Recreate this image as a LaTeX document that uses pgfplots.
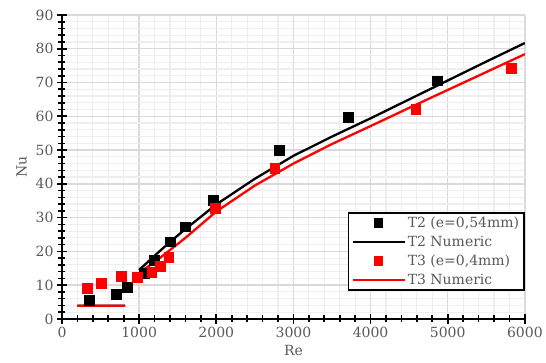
\documentclass[border=0pt]{standalone}
\usepackage{fontspec}
\setmainfont{DejaVu Serif}
\usepackage{pgfplots}
\pgfplotsset{compat=1.18}
\definecolor{tickgray}{RGB}{89,89,89}
\definecolor{majgrid}{RGB}{217,217,217}
\definecolor{mingrid}{RGB}{238,238,238}
\pgfplotsset{
  markleg/.style={legend image code/.code={\draw[##1, mark size=4bp] plot coordinates {(26bp,0)};}},
  lineleg/.style={legend image code/.code={\draw[##1] (0bp,0bp) -- (52bp,0bp);}},
}
\begin{document}
\begin{tikzpicture}
\begin{axis}[
  scale only axis,
  width=463bp, height=304bp,
  xmin=0, xmax=6000, ymin=0, ymax=90,
  xtick={0,1000,...,6000}, ytick={0,10,...,90},
  minor x tick num=4, minor y tick num=4,
  axis x line*=bottom, axis y line*=left,
  axis line style={line width=2bp, black, -},
  tick align=center,
  major tick length=10bp, minor tick length=7bp,
  every tick/.style={black, line width=1.6bp},
  grid=both,
  major grid style={majgrid, line width=1.4bp},
  minor grid style={mingrid, line width=1.2bp},
  /pgf/number format/assume math mode=true,
  /pgf/number format/1000 sep={},
  tick label style={font=\fontsize{14bp}{16bp}\selectfont, text=tickgray},
  label style={font=\fontsize{14bp}{16bp}\selectfont, text=tickgray},
  xlabel={Re}, ylabel={Nu},
  xlabel style={yshift=0bp},
  ylabel style={yshift=2bp},
  unbounded coords=jump,
  legend style={at={(1,0.093)}, anchor=south east, draw=black, line width=1.5bp,
    font=\fontsize{14bp}{16bp}\selectfont, text=tickgray, row sep=3bp,
    inner xsep=3bp, inner ysep=2bp},
  legend cell align=left,
]
% T2 experimental
\addplot[only marks, mark=square*, mark size=4.8bp, draw=black, fill=black, markleg]
  coordinates {(350,5.6) (700,7.4) (842,9.4) (1062,13.5) (1192,17.3) (1403,22.9)
  (1597,27.3) (1960,35.2) (2815,49.9) (3709,59.7) (4862,70.5)};
\addlegendentry{T2 (e=0,54mm)}
% T2 numeric
\addplot[black, line width=2.3bp, no marks, lineleg]
  coordinates {(200,3.9) (820,3.9) (900,nan)
  (1000,14.5) (1200,18.7) (1400,22.8) (1600,26.6) (2000,33.9) (2500,41.5)
  (3000,48.3) (3500,54.0) (4000,59.4) (4500,65.0) (5000,70.6) (5500,76.2) (6000,81.7)};
\addlegendentry{T2 Numeric}
% T3 experimental
\addplot[only marks, mark=square*, mark size=4.8bp, draw=red, fill=red, markleg]
  coordinates {(328,9.1) (509,10.6) (768,12.6) (976,12.3) (1162,13.8) (1274,15.6)
  (1382,18.3) (1986,32.8) (2759,44.6) (4585,62.1) (5820,74.2)};
\addlegendentry{T3 (e=0,4mm)}
% T3 numeric
\addplot[red, line width=2.3bp, no marks, lineleg]
  coordinates {(200,3.9) (820,3.9) (900,nan)
  (1030,14.2) (1200,16.8) (1400,20.4) (1600,24.0) (2000,31.8) (2500,39.5)
  (3000,46.0) (3500,51.8) (4000,57.1) (4500,62.5) (5000,67.8) (5500,73.1) (6000,78.4)};
\addlegendentry{T3 Numeric}
\end{axis}
\path (current axis.south west) ++(-62bp,-44bp) coordinate (bbA);
\path (current axis.north east) ++(21bp,15bp) coordinate (bbB);
\path (bbA) rectangle (bbB);
\end{tikzpicture}
\end{document}
